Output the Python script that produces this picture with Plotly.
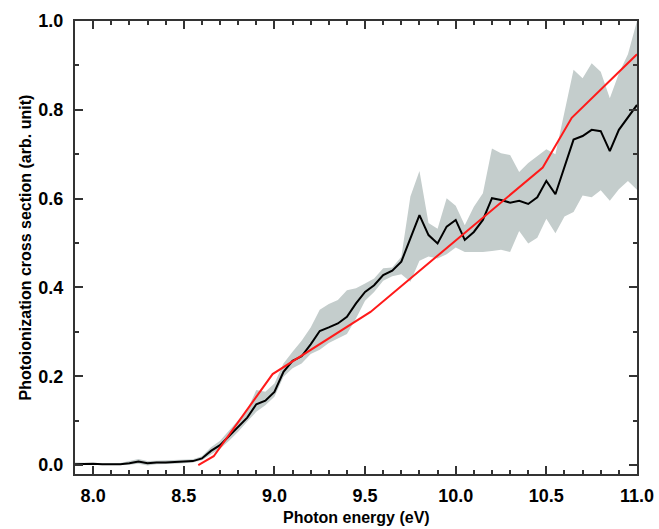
import plotly.graph_objects as go

energy = [round(7.90 + 0.05 * i, 2) for i in range(63)]

signal = [0.002, 0.003, 0.003, 0.002, 0.002, 0.002, 0.004, 0.008, 0.004, 0.006,
          0.006, 0.007, 0.008, 0.009, 0.015, 0.032, 0.045, 0.065, 0.086, 0.107,
          0.137, 0.145, 0.165, 0.210, 0.235, 0.245, 0.272, 0.302, 0.310, 0.319,
          0.334, 0.364, 0.390, 0.405, 0.428, 0.438, 0.458, 0.509, 0.563, 0.518,
          0.499, 0.537, 0.552, 0.507, 0.525, 0.552, 0.601, 0.597, 0.591, 0.595,
          0.588, 0.603, 0.640, 0.610, 0.672, 0.733, 0.741, 0.755, 0.752, 0.707,
          0.755, 0.784, 0.811]

upper = [0.006, 0.006, 0.005, 0.004, 0.004, 0.005, 0.009, 0.014, 0.009, 0.010,
         0.010, 0.011, 0.012, 0.013, 0.020, 0.040, 0.055, 0.078, 0.101, 0.124,
         0.169, 0.165, 0.184, 0.229, 0.255, 0.280, 0.310, 0.350, 0.363, 0.372,
         0.394, 0.398, 0.409, 0.420, 0.443, 0.445, 0.469, 0.605, 0.662, 0.545,
         0.532, 0.601, 0.584, 0.540, 0.582, 0.612, 0.713, 0.702, 0.698, 0.660,
         0.680, 0.695, 0.711, 0.700, 0.795, 0.890, 0.871, 0.905, 0.886, 0.826,
         0.882, 0.925, 1.000]

lower = [-0.002, 0.000, 0.000, 0.000, 0.000, 0.000, 0.001, 0.003, -0.001, 0.002,
         0.002, 0.003, 0.004, 0.006, 0.011, 0.025, 0.037, 0.055, 0.075, 0.098,
         0.120, 0.135, 0.154, 0.199, 0.218, 0.229, 0.250, 0.260, 0.275, 0.285,
         0.295, 0.330, 0.370, 0.390, 0.415, 0.425, 0.430, 0.413, 0.460, 0.470,
         0.465, 0.475, 0.490, 0.480, 0.480, 0.480, 0.482, 0.485, 0.480, 0.527,
         0.499, 0.512, 0.555, 0.522, 0.560, 0.570, 0.607, 0.603, 0.619, 0.595,
         0.621, 0.640, 0.620]

theory_energy = [8.58, 8.665, 8.99, 9.53, 10.48, 10.64, 11.0]
theory_value = [0.0, 0.020, 0.205, 0.345, 0.670, 0.782, 0.925]

x_title = "Photon energy (eV)"
y_title = "Photoionization cross section (arb. unit)"

FAM = "Liberation Sans, Arial, sans-serif"

fig = go.Figure()
fig.add_trace(go.Scatter(x=energy, y=lower, mode="lines", line=dict(width=0),
                         hoverinfo="skip", showlegend=False))
fig.add_trace(go.Scatter(x=energy, y=upper, mode="lines", line=dict(width=0),
                         fill="tonexty", fillcolor="#c4cdcc",
                         hoverinfo="skip", showlegend=False))
fig.add_trace(go.Scatter(x=energy, y=signal, mode="lines",
                         line=dict(color="#000000", width=2), showlegend=False))
fig.add_trace(go.Scatter(x=theory_energy, y=theory_value, mode="lines",
                         line=dict(color="#ff1a1a", width=2), showlegend=False))

axis_common = dict(
    ticks="inside", ticklen=8, tickwidth=1.5, tickcolor="#333333",
    showline=True, linecolor="#333333", linewidth=2, mirror="allticks",
    showgrid=False, zeroline=False, automargin=False,
    tickfont=dict(family=FAM, size=18, color="#000"),
    tickprefix="<b>", ticksuffix="</b>", tickformat=".1f",
)

fig.update_layout(
    width=659, height=529,
    margin=dict(l=75, r=22, t=21, b=55),
    paper_bgcolor="white", plot_bgcolor="white",
    font=dict(family=FAM, size=16, color="#000"),
    xaxis=dict(
        range=[7.9, 11.0], tick0=8.0, dtick=0.5,
        minor=dict(dtick=0.1, tick0=8.0, ticks="inside", ticklen=4,
                   tickwidth=1.5, tickcolor="#333333", showgrid=False),
        ticklabelstandoff=4,
        **axis_common,
    ),
    yaxis=dict(
        range=[-0.02, 1.0], tick0=0.0, dtick=0.2,
        minor=dict(dtick=0.1, tick0=0.0, ticks="inside", ticklen=4,
                   tickwidth=1.5, tickcolor="#333333", showgrid=False),
        ticklabelstandoff=6,
        **axis_common,
    ),
    annotations=[
        dict(text="<b>" + x_title + "</b>", xref="paper", yref="paper",
             x=0.5, y=0, yshift=-43, xanchor="center", yanchor="middle",
             showarrow=False, font=dict(family=FAM, size=16, color="#000")),
        dict(text="<b>" + y_title + "</b>", xref="paper", yref="paper",
             x=0, y=0.5, xshift=-50, xanchor="center", yanchor="middle",
             textangle=-90, showarrow=False,
             font=dict(family=FAM, size=16, color="#000")),
    ],
)

fig.write_html("out.html", config={"displayModeBar": False},
               post_script="document.body.style.margin='0';document.body.style.overflow='hidden';")
